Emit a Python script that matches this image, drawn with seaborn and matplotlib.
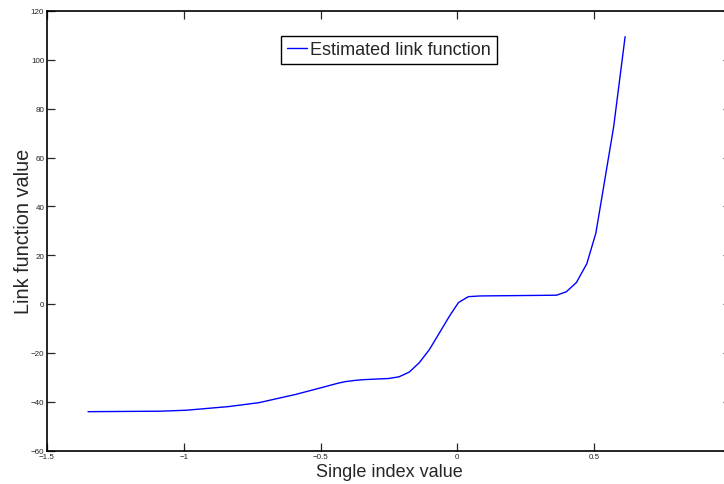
import pandas as pd
import seaborn as sns
import matplotlib.pyplot as plt

# values
single_index = [-1.35, -1.085, -0.99, -0.835, -0.725, -0.685, -0.59, -0.495, -0.465, -0.435,
                -0.41, -0.375, -0.345, -0.25, -0.213, -0.176, -0.139, -0.102, -0.065, -0.027,
                0.004, 0.04, 0.083, 0.362, 0.398, 0.435, 0.473, 0.506, 0.533, 0.571, 0.613]
link_value = [-44.1, -43.9, -43.5, -42.0, -40.4, -39.4, -37.0, -34.2, -33.3, -32.4,
              -31.8, -31.3, -31.0, -30.5, -29.8, -27.9, -24.0, -18.6, -11.7, -4.6,
              0.6, 3.0, 3.3, 3.6, 5.0, 8.8, 16.5, 29.0, 47.0, 72.5, 109.5]
xticks = [-1.5, -1, -0.5, 0, 0.5]
yticks = [-60, -40, -20, 0, 20, 40, 60, 80, 100, 120]
xtick_labels = ['\u22121.5', '\u22121', '\u22120.5', '0', '0.5']
ytick_labels = ['\u221260', '\u221240', '\u221220', '0', '20', '40', '60', '80', '100', '120']

df = pd.DataFrame({'x': single_index, 'y': link_value})

sns.set_style('ticks')
plt.rcParams['font.family'] = ['Liberation Sans', 'DejaVu Sans']

fig = plt.figure(figsize=(7.24, 4.85), dpi=100)
ax = fig.add_axes([47 / 724, 1 - 451.5 / 485, 684 / 724, 439.5 / 485])

sns.lineplot(data=df, x='x', y='y', color='#0000ff', linewidth=1.0,
             label='Estimated link function', ax=ax, sort=False)

ax.set_xlim(-1.5, 1.0)
ax.set_ylim(-60, 120)
ax.set_xticks(xticks)
ax.set_xticklabels(xtick_labels)
ax.set_yticks(yticks)
ax.set_yticklabels(ytick_labels)
ax.tick_params(direction='in', length=6, width=0.9, labelsize=5.8,
               labelcolor='#222222', top=True, right=True, pad=2)
for s in ax.spines.values():
    s.set_linewidth(1.2)
    s.set_color('black')

ax.set_xlabel('Single index value', fontsize=13, labelpad=2)
ax.set_ylabel('Link function value', fontsize=14.3)
ax.yaxis.set_label_coords(-0.021, 0.5)

leg = ax.legend(loc='upper center', bbox_to_anchor=(0.5, 0.943), borderaxespad=0,
                fontsize=13, fancybox=False, framealpha=1, edgecolor='black',
                handlelength=1.1, handletextpad=0.2, borderpad=0.3)
leg.get_frame().set_linewidth(1.0)

fig.savefig('out.png', dpi=100)
